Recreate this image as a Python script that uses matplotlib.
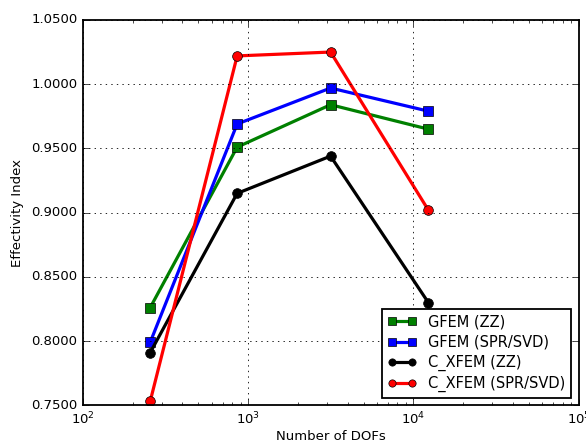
import numpy as np
import matplotlib
matplotlib.use("Agg")
import matplotlib.pyplot as plt
from matplotlib.ticker import FormatStrFormatter

plt.style.use("classic")

dofs = [255, 857, 3150, 12300]
gfem_zz = [0.826, 0.951, 0.984, 0.965]
gfem_spr = [0.799, 0.969, 0.997, 0.979]
cxfem_zz = [0.791, 0.915, 0.944, 0.830]
cxfem_spr = [0.753, 1.022, 1.025, 0.902]

fig = plt.figure(figsize=(5.86, 4.43), dpi=100)
fig.patch.set_facecolor("white")
ax = fig.add_axes([0.1416, 0.085, 0.846, 0.870])

ax.semilogx(dofs, gfem_zz, "-s", color="green", lw=2.3, ms=7, mec="black", label="GFEM (ZZ)")
ax.semilogx(dofs, gfem_spr, "-s", color="blue", lw=2.3, ms=7, mec="black", label="GFEM (SPR/SVD)")
ax.semilogx(dofs, cxfem_zz, "-o", color="black", lw=2.3, ms=7, mec="black", label="C_XFEM (ZZ)")
ax.semilogx(dofs, cxfem_spr, "-o", color="red", lw=2.3, ms=7, mec="black", label="C_XFEM (SPR/SVD)")

ax.set_xlim(1e2, 1e5)
ax.set_ylim(0.75, 1.05)
ax.yaxis.set_major_formatter(FormatStrFormatter("%.4f"))
ax.grid(True, which="major", color="black", linestyle=":", lw=0.6)
for s in ax.spines.values():
    s.set_linewidth(1.3)
ax.tick_params(labelsize=9.5)
ax.set_xlabel("Number of DOFs", fontsize=9.5, labelpad=2)
ax.set_ylabel("Effectivity Index", fontsize=9.5)
leg = ax.legend(loc="lower right", fontsize=10.5, numpoints=2, handlelength=2.0,
                markerscale=0.75, borderaxespad=0.5, labelspacing=0.35)
leg.get_frame().set_linewidth(1.3)

fig.savefig("out.png", dpi=100, facecolor="white")
